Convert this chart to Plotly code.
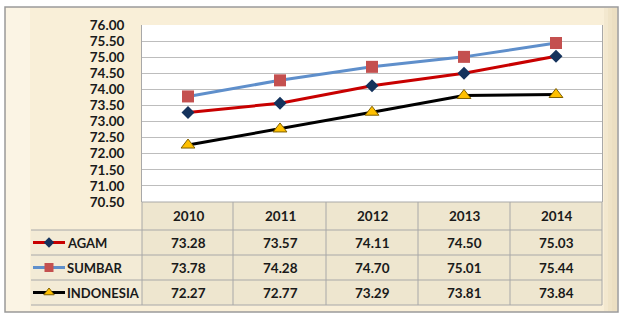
import plotly.graph_objects as go

years = [2010, 2011, 2012, 2013, 2014]
series_names = ["AGAM", "SUMBAR", "INDONESIA"]
agam = [73.28, 73.57, 74.11, 74.50, 75.03]
sumbar = [73.78, 74.28, 74.70, 75.01, 75.44]
indonesia = [72.27, 72.77, 73.29, 73.81, 73.84]
y_ticks = [70.5, 71.0, 71.5, 72.0, 72.5, 73.0, 73.5, 74.0, 74.5, 75.0, 75.5, 76.0]

W, H = 624, 315
def px(x): return x / W
def py(y): return 1 - y / H

styles = {
    "AGAM": dict(line=dict(color="#C80000", width=3),
                 marker=dict(symbol="diamond", size=10, color="#14325C", line=dict(width=0))),
    "SUMBAR": dict(line=dict(color="#5F8FCB", width=3),
                   marker=dict(symbol="square", size=12, color="#C4504F", line=dict(width=0))),
    "INDONESIA": dict(line=dict(color="#000000", width=3),
                      marker=dict(symbol="triangle-up", size=12, color="#FFC000",
                                  line=dict(width=1, color="#7F6000"))),
}
legend_marker_sizes = {"AGAM": 8, "SUMBAR": 9, "INDONESIA": 9}
values = {"AGAM": agam, "SUMBAR": sumbar, "INDONESIA": indonesia}

FONT = "Lato"
TXT = "#1A1A1A"
FS = 13.5

fig = go.Figure()
for name in series_names:
    fig.add_trace(go.Scatter(x=years, y=values[name], mode="lines+markers", name=name,
                             showlegend=False, cliponaxis=False, **styles[name]))

# legend samples in table (pixel overlay axis)
row_centers = [242.5, 267.5, 292.5]
for name, yc in zip(series_names, row_centers):
    fig.add_trace(go.Scatter(x=[33, 49, 65], y=[yc, yc, yc], xaxis="x2", yaxis="y2",
                             mode="lines", showlegend=False, hoverinfo="skip", cliponaxis=False,
                             line=dict(color=styles[name]["line"]["color"], width=3)))
    m = dict(styles[name]["marker"])
    m["size"] = legend_marker_sizes[name]
    fig.add_trace(go.Scatter(x=[49], y=[yc], xaxis="x2", yaxis="y2", mode="markers",
                             showlegend=False, hoverinfo="skip", cliponaxis=False, marker=m))

shapes = []
shapes.append(dict(type="rect", xref="paper", yref="paper", x0=px(5), x1=px(618), y0=py(312), y1=py(7),
                   fillcolor="#F9EFD8", line=dict(color="#9A9A9A", width=1.5), layer="below"))
for i, c in enumerate(["#F3E8CF", "#EFE3C7", "#ECDFC2"]):
    shapes.append(dict(type="rect", xref="paper", yref="paper", x0=px(604 + i * 4), x1=px(617),
                       y0=py(311), y1=py(8), fillcolor=c, line=dict(width=0), layer="below"))
shapes.append(dict(type="rect", xref="paper", yref="paper", x0=px(6), x1=px(30), y0=py(311), y1=py(8),
                   fillcolor="#FBF4E4", line=dict(width=0), layer="below"))
shapes.append(dict(type="rect", xref="paper", yref="paper", x0=px(142), x1=px(602), y0=py(202), y1=py(25),
                   fillcolor="#FFFFFF", line=dict(width=0), layer="below"))
shapes.append(dict(type="rect", xref="paper", yref="paper", x0=px(142), x1=px(602), y0=py(305), y1=py(202),
                   fillcolor="#EEE6CF", line=dict(width=0), layer="below"))
shapes.append(dict(type="rect", xref="paper", yref="paper", x0=px(31), x1=px(142), y0=py(305), y1=py(230),
                   fillcolor="#F3EBD6", line=dict(width=0), layer="below"))
GL = dict(color="#A8A8A8", width=1)
shapes.append(dict(type="line", xref="paper", yref="paper", x0=px(142), x1=px(602), y0=py(202), y1=py(202), line=GL))
for yy in [230, 255, 280, 305]:
    shapes.append(dict(type="line", xref="paper", yref="paper", x0=px(31), x1=px(602), y0=py(yy), y1=py(yy), line=GL))
for xx in [142, 233, 326, 418, 510, 602]:
    shapes.append(dict(type="line", xref="paper", yref="paper", x0=px(xx), x1=px(xx), y0=py(305), y1=py(202), line=GL))

annotations = []
fnt = dict(family=FONT, size=FS, color=TXT)
for i, yr in enumerate(years):
    annotations.append(dict(x=yr, xref="x", y=py(216), yref="paper", text=f"<b>{yr}</b>",
                            showarrow=False, font=fnt, xanchor="center", yanchor="middle"))
    for name, yc in zip(series_names, row_centers):
        annotations.append(dict(x=yr, xref="x", y=py(yc), yref="paper",
                                text=f"<b>{values[name][i]:.2f}</b>", showarrow=False, font=fnt,
                                xanchor="center", yanchor="middle"))
for name, yc in zip(series_names, row_centers):
    annotations.append(dict(x=px(65), xref="paper", y=py(yc), yref="paper", text=f"<b>{name}</b>",
                            showarrow=False, font=dict(family=FONT, size=13, color=TXT),
                            xanchor="left", yanchor="middle"))

fig.update_layout(
    template="none",
    width=W, height=H, margin=dict(l=0, r=0, t=0, b=0, pad=0), autosize=False,
    paper_bgcolor="#FFFFFF", plot_bgcolor="rgba(0,0,0,0)",
    font=dict(family=FONT, size=FS, color=TXT),
    xaxis=dict(domain=[px(142), px(602)], range=[2009.5, 2014.5], type="linear",
               showticklabels=False, showgrid=False, zeroline=False, automargin=False,
               showline=False, ticks=""),
    yaxis=dict(domain=[py(202), py(25)], range=[70.5, 76.0], tickvals=y_ticks,
               ticktext=[f"<b>{v:.2f}</b>" for v in y_ticks], automargin=False,
               showgrid=True, gridcolor="#BDBDBD", gridwidth=1, zeroline=False,
               showline=True, linecolor="#A8A8A8", linewidth=1, mirror=True, ticks="",
               ticklabelstandoff=14, tickfont=dict(family=FONT, size=FS, color=TXT)),
    xaxis2=dict(domain=[0, 1], range=[0, W], visible=False, anchor="y2", automargin=False),
    yaxis2=dict(domain=[0, 1], range=[H, 0], visible=False, anchor="x2", automargin=False),
    shapes=shapes, annotations=annotations,
)

fig.write_html("out.html")
